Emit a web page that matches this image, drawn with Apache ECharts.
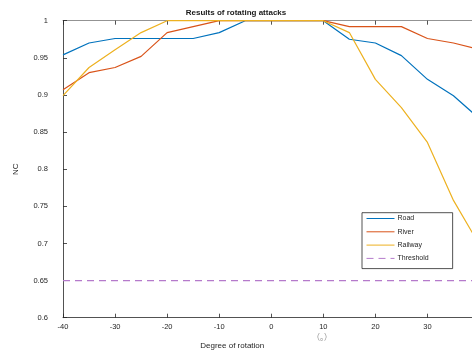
<!DOCTYPE html>
<html>
<head>
<meta charset="utf-8">
<script src="https://cdn.jsdelivr.net/npm/echarts@6/dist/echarts.min.js"></script>
<style>
    html, body { margin: 0; padding: 0; background: #fff; }
    #chart { width: 472px; height: 353px; }
</style>
</head>
<body>
<div id="chart"></div>
<script>
// rotation angle (degrees)
var degrees = [-40, -35, -30, -25, -20, -15, -10, -5, 0, 5, 10, 15, 20, 25, 30, 35, 40];
var road = [0.954, 0.970, 0.976, 0.976, 0.976, 0.976, 0.984, 1, 1, 1, 1, 0.975, 0.970, 0.953, 0.921, 0.899, 0.868];
var river = [0.907, 0.930, 0.937, 0.952, 0.984, 0.992, 1, 1, 1, 1, 1, 0.992, 0.992, 0.992, 0.976, 0.970, 0.961];
var railway = [0.899, 0.937, 0.961, 0.984, 1, 1, 1, 1, 1, 1, 1, 0.984, 0.921, 0.883, 0.836, 0.758, 0.698];
var threshold = [0.65, 0.65, 0.65, 0.65, 0.65, 0.65, 0.65, 0.65, 0.65, 0.65, 0.65, 0.65, 0.65, 0.65, 0.65, 0.65, 0.65];

var font = '"Liberation Sans", Arial, sans-serif';

function pairs(vals) {
    return degrees.map(function(d, i) { return [d, vals[i]]; });
}

function makeLine(name, vals, color, dash) {
    return {
        name: name,
        type: 'line',
        data: pairs(vals),
        symbol: 'none',
        silent: true,
        lineStyle: { color: color, width: 1.2, type: dash || 'solid' },
        itemStyle: { color: color }
    };
}

var chart = echarts.init(document.getElementById('chart'));
var option = {
    backgroundColor: '#fff',
    animation: false,
    textStyle: { fontFamily: font },
    title: {
        text: 'Results of rotating attacks',
        left: 'center',
        top: 4,
        textStyle: { fontSize: 8, fontWeight: 'bold', color: '#1a1a1a', fontFamily: font }
    },
    legend: {
        orient: 'vertical',
        left: 362,
        top: 212.7,
        itemWidth: 28,
        itemHeight: 8,
        itemGap: 6.3,
        padding: [2.3, 24, 6.7, 4],
        borderColor: '#262626',
        borderWidth: 0.8,
        backgroundColor: '#fff',
        itemStyle: { opacity: 0 },
        lineStyle: { width: 1 },
        textStyle: { fontSize: 7, color: '#262626', padding: [0, 0, 3, -2], fontFamily: font },
        data: ['Road', 'River', 'Railway', 'Threshold']
    },
    // plot runs past the right edge of the window (x = 40 is cut off)
    grid: {
        left: 63,
        top: 20.7,
        width: 416.5,
        height: 297,
        outerBoundsMode: 'none'
    },
    xAxis: [{
        type: 'value',
        min: -40,
        max: 40,
        interval: 10,
        name: 'Degree of rotation',
        nameLocation: 'middle',
        nameGap: 24,
        nameTextStyle: { fontSize: 8, color: '#262626', padding: [0, 78, 0, 0], fontFamily: font },
        axisLine: { onZero: false, lineStyle: { color: '#262626', width: 0.8 } },
        axisTick: { inside: true, length: 4, lineStyle: { color: '#262626', width: 0.8 } },
        axisLabel: { fontSize: 7.5, color: '#262626', margin: 5, fontFamily: font },
        splitLine: { show: false }
    }, {
        type: 'value',
        position: 'top',
        min: -40,
        max: 40,
        interval: 10,
        axisLine: { show: true, onZero: false, lineStyle: { color: '#777', width: 0.8 } },
        axisTick: { inside: true, length: 4, lineStyle: { color: '#262626', width: 0.8 } },
        axisLabel: { show: false },
        splitLine: { show: false }
    }],
    yAxis: [{
        type: 'value',
        min: 0.6,
        max: 1,
        interval: 0.05,
        name: 'NC',
        nameLocation: 'middle',
        nameRotate: 90,
        nameGap: 43,
        nameTextStyle: { fontSize: 8, color: '#262626', fontFamily: font },
        axisLine: { show: true, onZero: false, lineStyle: { color: '#262626', width: 0.8 } },
        axisTick: { show: true, inside: true, length: 4, lineStyle: { color: '#262626', width: 0.8 } },
        axisLabel: {
            fontSize: 7.5,
            color: '#262626',
            margin: 15,
            fontFamily: font,
            formatter: function(v) { return String(parseFloat(v.toFixed(2))); }
        },
        splitLine: { show: false }
    }],
    graphic: [{
        type: 'text',
        left: 312,
        top: 333,
        silent: true,
        style: { text: '（。）', fontSize: 8, fill: '#8a8a8a', fontFamily: '"Noto Sans CJK SC", sans-serif' }
    }],
    series: [
        makeLine('Road', road, '#0072BD'),
        makeLine('River', river, '#D95319'),
        makeLine('Railway', railway, '#EDB120'),
        makeLine('Threshold', threshold, '#B57ACB', [7, 5])
    ]
};
chart.setOption(option);
</script>
</body>
</html>
